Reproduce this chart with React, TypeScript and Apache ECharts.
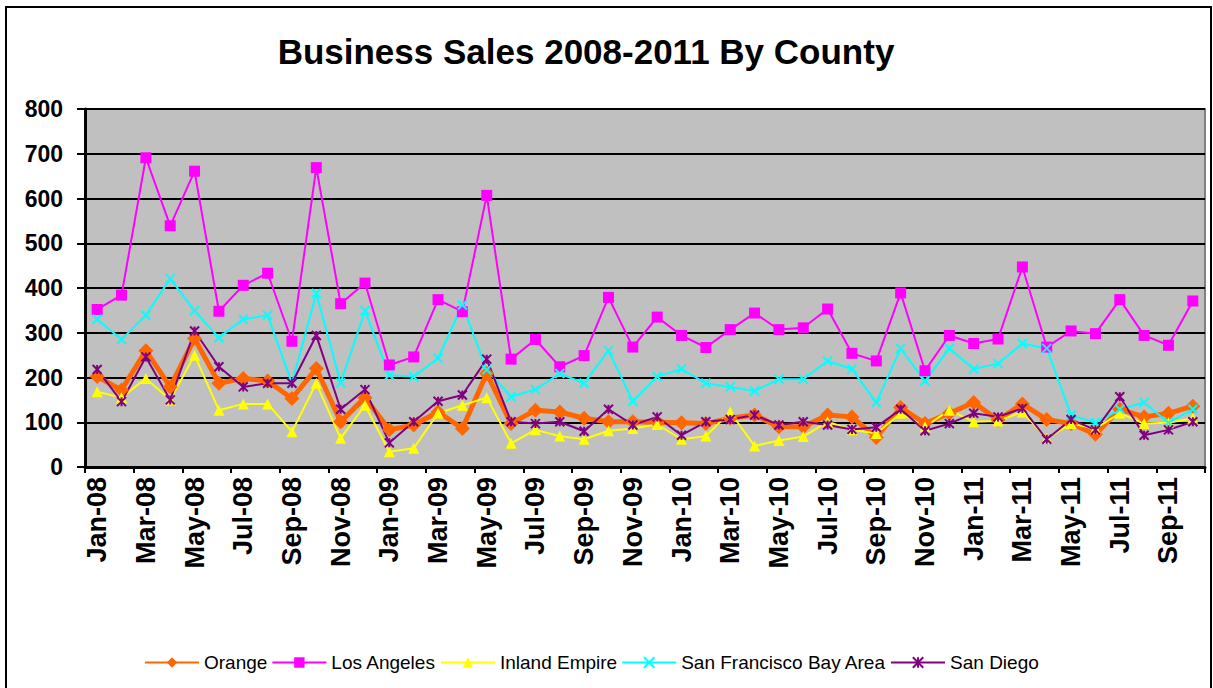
import React, { useEffect, useRef } from "react";
import * as echarts from "echarts";

const months = [
  "Jan-08","Feb-08","Mar-08","Apr-08","May-08","Jun-08","Jul-08","Aug-08","Sep-08","Oct-08","Nov-08","Dec-08",
  "Jan-09","Feb-09","Mar-09","Apr-09","May-09","Jun-09","Jul-09","Aug-09","Sep-09","Oct-09","Nov-09","Dec-09",
  "Jan-10","Feb-10","Mar-10","Apr-10","May-10","Jun-10","Jul-10","Aug-10","Sep-10","Oct-10","Nov-10","Dec-10",
  "Jan-11","Feb-11","Mar-11","Apr-11","May-11","Jun-11","Jul-11","Aug-11","Sep-11","Oct-11",
];

const orange = [202,172,260,179,287,187,198,192,153,220,101,155,83,94,123,86,209,97,127,123,109,101,101,100,99,97,109,116,90,90,116,112,66,133,97,120,144,105,141,106,97,73,129,112,120,136];
const losAngeles = [352,384,691,539,661,348,406,433,281,669,365,411,228,246,374,347,607,241,285,224,249,379,268,335,294,267,307,344,307,311,353,254,237,389,215,294,276,286,447,268,304,298,374,294,272,371];
const inlandEmpire = [168,155,198,150,250,127,141,141,79,187,64,138,34,42,120,138,155,53,83,69,62,81,86,95,62,69,123,47,59,68,101,83,75,120,90,127,101,103,123,64,97,86,120,97,99,109];
const sfBayArea = [330,285,339,421,349,289,330,339,187,388,188,349,205,202,243,362,217,157,173,209,187,260,147,202,219,187,179,170,196,196,237,219,144,265,192,265,219,231,276,265,116,99,129,144,99,129];
const sanDiego = [218,146,246,150,304,224,179,187,187,294,129,173,54,101,147,161,241,101,97,101,80,129,94,112,71,101,106,116,94,101,94,84,89,129,81,97,120,112,131,62,106,83,157,71,83,101];

const yTicks = { min: 0, max: 800, interval: 100 };
const titleText = "Business Sales 2008-2011 By County";

const FONT = 'Arial, "Liberation Sans", sans-serif';

export default function App() {
  const ref = useRef<HTMLDivElement>(null);
  useEffect(() => {
    if (!ref.current) return;
    const chart = echarts.init(ref.current, null, { renderer: "svg" });
    const xMark = "path://M0 0L10 10M10 0L0 10";
    const starMark = "path://M0 0L10 10M10 0L0 10M5 0L5 10";
    chart.setOption({
      animation: false,
      backgroundColor: "#ffffff",
      title: {
        text: titleText,
        left: 581,
        textAlign: "center",
        top: 29,
        textStyle: { fontFamily: FONT, fontWeight: "bold", fontSize: 35, color: "#000" },
      },
      graphic: [
        {
          type: "rect",
          shape: { x: 6, y: 7, width: 1205, height: 700 },
          style: { fill: "none", stroke: "#000", lineWidth: 2 },
          silent: true,
          z: -1,
        },
      ],
      legend: {
        top: 648,
        left: 139,
        itemWidth: 54,
        itemHeight: 13,
        itemGap: 4,
        textStyle: { fontFamily: FONT, fontSize: 19, color: "#000", padding: [0, 0, 0, 0] },
        data: ["Orange", "Los Angeles", "Inland Empire", "San Francisco Bay Area", "San Diego"],
      },
      grid: {
        left: 85,
        right: 8,
        top: 109,
        bottom: 221,
        show: true,
        backgroundColor: "#C0C0C0",
        borderColor: "#808080",
        borderWidth: 2,
      },
      xAxis: {
        type: "category",
        data: months,
        boundaryGap: true,
        axisLine: { lineStyle: { color: "#000", width: 3 } },
        axisTick: { show: true, interval: 1, length: 6, lineStyle: { color: "#000", width: 2 } },
        axisLabel: {
          interval: 1,
          rotate: 90,
          margin: 10,
          fontFamily: FONT,
          fontWeight: "bold",
          fontSize: 27,
          color: "#000",
        },
        splitLine: { show: false },
      },
      yAxis: {
        type: "value",
        min: yTicks.min,
        max: yTicks.max,
        interval: yTicks.interval,
        axisLine: { show: true, lineStyle: { color: "#000", width: 3 } },
        axisTick: { show: true, length: 8, lineStyle: { color: "#000", width: 2 } },
        axisLabel: {
          margin: 22,
          fontFamily: FONT,
          fontWeight: "bold",
          fontSize: 23,
          color: "#000",
        },
        splitLine: { show: true, lineStyle: { color: "#000", width: 2 } },
      },
      series: [
        {
          name: "Orange",
          type: "line",
          data: orange,
          color: "#FF6600",
          symbol: "diamond",
          symbolSize: 15,
          lineStyle: { width: 5, color: "#FF6600" },
          itemStyle: { color: "#FF6600" },
        },
        {
          name: "Los Angeles",
          type: "line",
          data: losAngeles,
          color: "#FF00FF",
          symbol: "rect",
          symbolSize: 11,
          lineStyle: { width: 2, color: "#FF00FF" },
          itemStyle: { color: "#FF00FF" },
        },
        {
          name: "Inland Empire",
          type: "line",
          data: inlandEmpire,
          color: "#FFFF00",
          symbol: "triangle",
          symbolSize: 11,
          lineStyle: { width: 2, color: "#FFFF00" },
          itemStyle: { color: "#FFFF00" },
        },
        {
          name: "San Francisco Bay Area",
          type: "line",
          data: sfBayArea,
          color: "#00FFFF",
          symbol: xMark,
          symbolSize: 9,
          lineStyle: { width: 2, color: "#00FFFF" },
          itemStyle: { color: "#00FFFF", borderColor: "#00FFFF", borderWidth: 2 },
        },
        {
          name: "San Diego",
          type: "line",
          data: sanDiego,
          color: "#800080",
          symbol: starMark,
          symbolSize: 9,
          lineStyle: { width: 2, color: "#800080" },
          itemStyle: { color: "#800080", borderColor: "#800080", borderWidth: 2 },
        },
      ],
    });
    return () => chart.dispose();
  }, []);
  return (
    <div
      ref={ref}
      style={{ position: "absolute", left: 0, top: 0, width: 1213, height: 688 }}
    />
  );
}
